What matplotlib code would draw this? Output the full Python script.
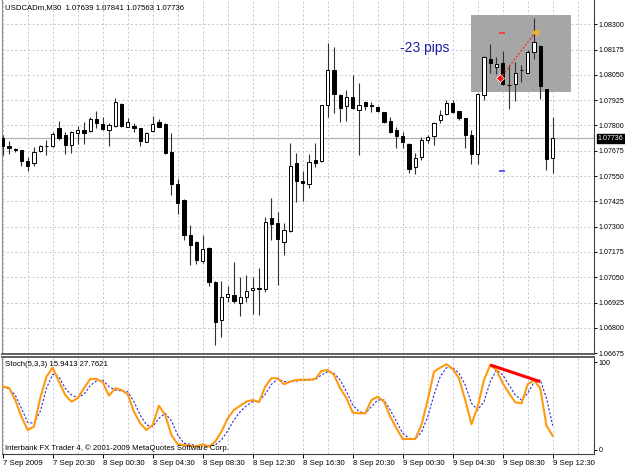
import numpy as np
import matplotlib
matplotlib.use("Agg")
import matplotlib.pyplot as plt
from matplotlib.patches import Rectangle

# ---------------- data ----------------
title_text = "USDCADm,M30  1.07639 1.07841 1.07563 1.07736"
stoch_text = "Stoch(5,3,3) 15.9413 27.7621"
footer_text = "Interbank FX Trader 4, \u00a9 2001-2009 MetaQuotes Software Corp."

open_ = [1.07738, 1.07699, 1.07684, 1.07679, 1.07625, 1.07615, 1.07672, 1.07699, 1.07699, 1.07790,
         1.07753, 1.07704, 1.07762, 1.07778, 1.07773, 1.07832, 1.07806, 1.07778, 1.07798, 1.07906,
         1.07794, 1.07798, 1.07786, 1.07720, 1.07774, 1.07816, 1.07807, 1.07668, 1.07511, 1.07432,
         1.07259, 1.07226, 1.07132, 1.07193, 1.07028, 1.06839, 1.06951, 1.06963, 1.06925, 1.06954,
         1.06987, 1.06994, 1.06991, 1.07342, 1.07320, 1.07223, 1.07280, 1.07613, 1.07526, 1.07510,
         1.07630, 1.07626, 1.07900, 1.08074, 1.07951, 1.07896, 1.07942, 1.07877, 1.07918, 1.07899,
         1.07893, 1.07865, 1.07824, 1.07778, 1.07748, 1.07709, 1.07597, 1.07646, 1.07728, 1.07748,
         1.07827, 1.07857, 1.07910, 1.07872, 1.07836, 1.07753, 1.07659, 1.07951, 1.08127, 1.08091,
         1.08110, 1.08002, 1.08005, 1.08073, 1.08061, 1.08162, 1.08193, 1.07979, 1.07639]
high = [1.07753, 1.07723, 1.07691, 1.07681, 1.07644, 1.07696, 1.07704, 1.07728, 1.07770, 1.07824,
        1.07769, 1.07774, 1.07798, 1.07816, 1.07841, 1.07872, 1.07844, 1.07811, 1.07937, 1.07910,
        1.07836, 1.07811, 1.07788, 1.07769, 1.07847, 1.07831, 1.07811, 1.07762, 1.07536, 1.07435,
        1.07308, 1.07228, 1.07259, 1.07198, 1.07033, 1.07033, 1.07007, 1.07127, 1.07052, 1.07062,
        1.07052, 1.07095, 1.07350, 1.07440, 1.07374, 1.07317, 1.07712, 1.07663, 1.07577, 1.07659,
        1.07715, 1.07903, 1.08206, 1.08189, 1.07956, 1.07975, 1.08050, 1.08009, 1.07920, 1.07918,
        1.07896, 1.07867, 1.07844, 1.07794, 1.07769, 1.07712, 1.07663, 1.07745, 1.07753, 1.07819,
        1.07877, 1.07926, 1.07926, 1.07874, 1.07838, 1.07778, 1.07961, 1.08143, 1.08203, 1.08140,
        1.08170, 1.08099, 1.08115, 1.08099, 1.08173, 1.08329, 1.08198, 1.07980, 1.07841]
low = [1.07654, 1.07659, 1.07667, 1.07602, 1.07573, 1.07600, 1.07667, 1.07654, 1.07696, 1.07728,
       1.07658, 1.07666, 1.07707, 1.07709, 1.07769, 1.07786, 1.07778, 1.07700, 1.07794, 1.07794,
       1.07791, 1.07766, 1.07700, 1.07717, 1.07766, 1.07791, 1.07659, 1.07459, 1.07363, 1.07234,
       1.07111, 1.07116, 1.07119, 1.07007, 1.06716, 1.06757, 1.06930, 1.06922, 1.06860, 1.06930,
       1.06869, 1.06864, 1.06979, 1.07234, 1.07012, 1.07160, 1.07275, 1.07424, 1.07427, 1.07490,
       1.07597, 1.07621, 1.07844, 1.07863, 1.07819, 1.07824, 1.07883, 1.07654, 1.07877, 1.07868,
       1.07868, 1.07811, 1.07762, 1.07687, 1.07687, 1.07564, 1.07560, 1.07630, 1.07712, 1.07704,
       1.07814, 1.07852, 1.07860, 1.07827, 1.07687, 1.07610, 1.07610, 1.07926, 1.08061, 1.08054,
       1.08000, 1.07880, 1.07923, 1.08016, 1.08058, 1.08127, 1.07931, 1.07580, 1.07563]
close = [1.07699, 1.07691, 1.07677, 1.07627, 1.07600, 1.07671, 1.07700, 1.07701, 1.07758, 1.07737,
         1.07704, 1.07766, 1.07778, 1.07762, 1.07831, 1.07811, 1.07783, 1.07803, 1.07915, 1.07799,
         1.07816, 1.07789, 1.07723, 1.07762, 1.07806, 1.07794, 1.07663, 1.07511, 1.07416, 1.07259,
         1.07210, 1.07136, 1.07188, 1.07028, 1.06831, 1.06954, 1.06966, 1.06935, 1.06951, 1.06984,
         1.06996, 1.06996, 1.07322, 1.07312, 1.07241, 1.07284, 1.07600, 1.07527, 1.07515, 1.07618,
         1.07616, 1.07901, 1.08074, 1.07956, 1.07885, 1.07942, 1.07885, 1.07901, 1.07898, 1.07896,
         1.07873, 1.07819, 1.07769, 1.07748, 1.07720, 1.07584, 1.07638, 1.07728, 1.07742, 1.07814,
         1.07852, 1.07910, 1.07868, 1.07836, 1.07753, 1.07659, 1.07956, 1.08140, 1.08107, 1.08104,
         1.08005, 1.07999, 1.08061, 1.08074, 1.08165, 1.08211, 1.07995, 1.07633, 1.07736]

stoch_main = [72.2, 71, 57, 38, 22.8, 26.6, 59, 83.6, 93.8, 77.9,
              62.7, 55, 59, 70.3, 81, 81, 77.2, 61.9, 70.3, 68.4,
              63.5, 43.7, 30.4, 22.8, 28.5, 50.5, 39.9, 17.1, 6.5, 5.7,
              4.9, 3.8, 6.5, 3.8, 9.5, 20.9, 36.1, 45.6, 50.5, 55.1,
              57, 54.4, 72.2, 81.8, 81.8, 74.9, 77.9, 79.8, 80.2, 80,
              81, 90, 91.2, 85.5, 70.3, 59, 42.6, 41.8, 41.8, 57,
              60.8, 55.1, 38, 24.7, 12.5, 12.5, 12.5, 28.5, 57, 89.3,
              93.8, 97.7, 92.4, 81.8, 57, 29.3, 49.4, 79.8, 96.9, 91.2,
              76, 64.7, 54.4, 53.2, 74.9, 79.8, 70.3, 27.7, 15.94]
stoch_signal = [72, 70, 62.7, 47.5, 31.5, 30.4, 43.7, 70.3, 86.3, 83.6,
                70.3, 62.7, 59.7, 63.5, 73.3, 78.7, 79.8, 72.2, 68.4, 67.3,
                66.5, 55.1, 39.9, 28.5, 26.6, 36.1, 41.8, 33.1, 17.1, 7.6,
                6.5, 4.9, 5.7, 4.9, 5.7, 11.4, 21.7, 34.2, 43.7, 50.5,
                55.1, 55.9, 63.5, 74.9, 81, 77.9, 77.9, 78.7, 79.4, 79.8,
                80.2, 85.5, 89.3, 87.5, 79.8, 66.5, 51.3, 43.7, 41.8, 49.4,
                57, 57, 45.6, 32.3, 19, 13.3, 12.5, 20.2, 38, 62.7,
                83.6, 93.8, 93.8, 87.5, 74.1, 53.2, 45.6, 55.1, 77.9, 91.2,
                85.5, 74.1, 62.7, 57, 64.7, 77.2, 79.8, 59, 27.76]

time_labels = ["7 Sep 2009", "7 Sep 20:30", "8 Sep 00:30", "8 Sep 04:30", "8 Sep 08:30",
               "8 Sep 12:30", "8 Sep 16:30", "8 Sep 20:30", "9 Sep 00:30", "9 Sep 04:30",
               "9 Sep 08:30", "9 Sep 12:30"]
price_ticks = [1.06675, 1.06800, 1.06925, 1.07050, 1.07175, 1.07300, 1.07425,
               1.07550, 1.07675, 1.07800, 1.07925, 1.08050, 1.08175, 1.08300]
last_price = 1.07736

# chart objects
box_bars = [74.9, 90.9]
box_prices = [1.07964, 1.08346]
trade_bars = [79.6, 85.2]
trade_prices = [1.08033, 1.08260]
sl_bars = [79.4, 80.4]
sl_price = 1.08257
tp_price = 1.07577
pips_label = "-23 pips"
pips_pos = (67.5, 1.08185)
div_bars = [78, 86]
div_values = [96.9, 77.9]

# ---------------- drawing ----------------
plt.rcParams['font.family'] = ['Liberation Sans', 'DejaVu Sans']
W, H = 625, 469
fig = plt.figure(figsize=(W / 100, H / 100), dpi=100)
fig.patch.set_facecolor('white')


def frame(x0, y0, x1, y1):
    return [x0 / W, 1 - y1 / H, (x1 - x0) / W, (y1 - y0) / H]


ax = fig.add_axes(frame(2, 0, 594, 354))
ax2 = fig.add_axes(frame(2, 357, 594, 454))

o = np.array(open_); hi = np.array(high); lo = np.array(low); c = np.array(close)
bars = np.arange(len(o))
XMIN, XMAX = -0.11, 94.6

grid_kw = dict(color='#c9c6d6', lw=0.7, linestyle=(0, (2.2, 2.2)), zorder=0)
for a in (ax, ax2):
    for gx in range(0, 95, 4):
        a.axvline(gx, **grid_kw)
for p in price_ticks:
    ax.axhline(p, **grid_kw)

ax.add_patch(Rectangle((box_bars[0], box_prices[0]), box_bars[1] - box_bars[0],
                       box_prices[1] - box_prices[0], facecolor='#a6a6a6',
                       edgecolor='none', zorder=1))
ax.axhline(last_price, color='#b4b4b4', lw=0.9, zorder=1.5)

up = c >= o
ax.vlines(bars, lo, hi, color='#303030', lw=0.8, zorder=2)
ax.bar(bars[up], (c - o)[up], bottom=o[up], width=0.5, facecolor='white',
       edgecolor='black', lw=0.7, zorder=3)
ax.bar(bars[~up], (o - c)[~up], bottom=c[~up], width=0.5, facecolor='black',
       edgecolor='black', lw=0.7, zorder=3)

# trade arrow and levels
ax.plot(trade_bars, trade_prices, color='#ff2020', lw=0.9, linestyle=(0, (1.5, 1.5)), zorder=4)
ax.plot(trade_bars[0], trade_prices[0], marker='D', ms=4.5, color='#ff1010',
        mec='white', mew=0.5, zorder=5)
ax.plot(trade_bars[1], trade_prices[1], marker='<', ms=5, color='#f0b030', zorder=5)
ax.hlines(sl_price, sl_bars[0], sl_bars[1], color='#ff3030', lw=1.2, zorder=4)
ax.hlines(tp_price, sl_bars[0], sl_bars[1], color='#4040ff', lw=1.2, zorder=4)
ax.text(pips_pos[0], pips_pos[1], pips_label, color='#1e1ea8', fontsize=10,
        ha='center', va='center', zorder=5)

ax.set_xlim(XMIN, XMAX)
ax.set_ylim(1.06671, 1.08420)
ax.yaxis.tick_right()
ax.set_yticks(price_ticks)
ax.set_yticklabels([f"{p:.5f}" for p in price_ticks])
ax.tick_params(axis='y', direction='out', length=2.5, width=0.7, pad=1,
               labelsize=5.1, colors='black')
ax.tick_params(axis='x', bottom=False, labelbottom=False)
ax.annotate(f"{last_price:.5f}", xy=(1.0, last_price), xycoords=('axes fraction', 'data'),
            xytext=(2.8, 0), textcoords='offset points', ha='left', va='center',
            fontsize=5.1, color='white',
            bbox=dict(boxstyle='square,pad=0.15', fc='black', ec='black'), zorder=6,
            annotation_clip=False)

for s in ax.spines.values():
    s.set_linewidth(0.8)
ax.spines['top'].set_visible(False)
ax.spines['left'].set_color('#8a8a8a')
ax.spines['right'].set_color('#404040')
ax.spines['bottom'].set_color('#606060')
ax.spines['bottom'].set_linewidth(1.4)

# stochastic
ax2.plot(bars, stoch_signal, color='#2b2bd0', lw=0.8, linestyle=(0, (2, 1.6)), zorder=3)
ax2.plot(bars, stoch_main, color='#ff9a10', lw=1.5, zorder=4)
ax2.plot(div_bars, div_values, color='#ff0000', lw=2.2, solid_capstyle='butt', zorder=5)
ax2.set_xlim(XMIN, XMAX)
ax2.set_ylim(-4.6, 106)
ax2.yaxis.tick_right()
ax2.set_yticks([0, 100])
ax2.set_yticklabels(['0', '100'])
ax2.tick_params(axis='y', direction='out', length=2.5, width=0.7, pad=1,
                labelsize=5.1, colors='black')
ax2.set_xticks(np.arange(0, 89, 8))
ax2.set_xticklabels(time_labels, ha='left')
ax2.tick_params(axis='x', direction='out', length=3, width=0.7, pad=1.5,
                labelsize=5.6, colors='black')
for s in ax2.spines.values():
    s.set_linewidth(0.8)
ax2.spines['left'].set_color('#8a8a8a')
ax2.spines['top'].set_color('#606060')
ax2.spines['top'].set_linewidth(1.4)
ax2.spines['right'].set_color('#404040')
ax2.spines['bottom'].set_color('#404040')

fig.text(5 / W, 1 - 8 / H, title_text, fontsize=5.6, ha='left', va='center')
fig.text(5 / W, 1 - 364 / H, stoch_text, fontsize=5.6, ha='left', va='center')
fig.text(5 / W, 1 - 448 / H, footer_text, fontsize=5.6, ha='left', va='center')

fig.savefig('out.png', dpi=100, facecolor='white')
